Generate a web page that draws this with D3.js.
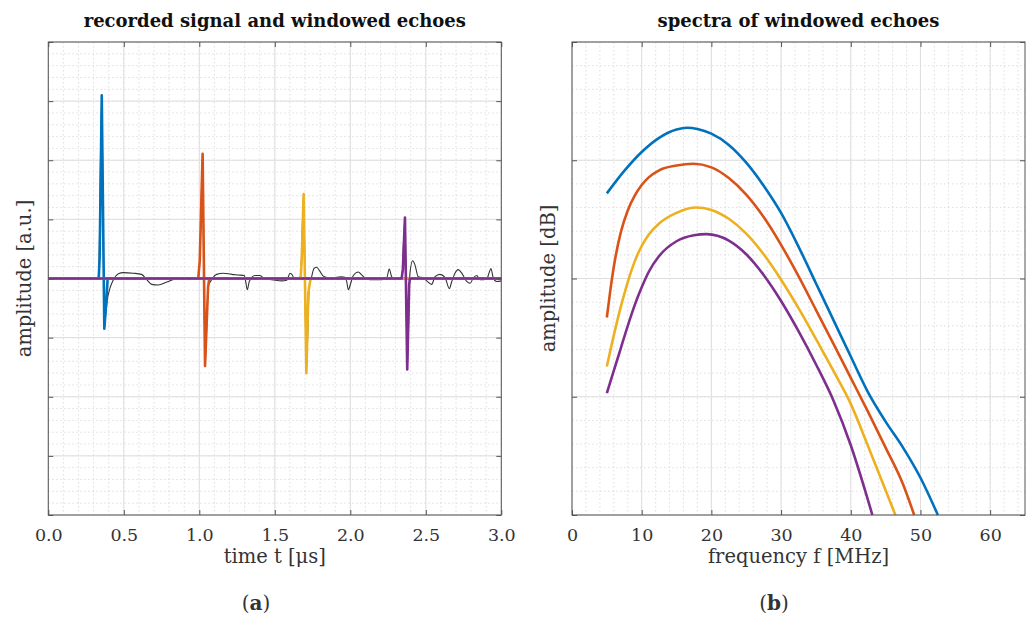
<!DOCTYPE html>
<meta charset="utf-8">
<style>
  body { margin: 0; background: #fff; }
  text { font-family: "DejaVu Serif", serif; fill: #333; }
  .title { font-weight: bold; fill: #111; }
  .grid-major line { stroke: #dedede; stroke-width: 1px; }
  .grid-minor line { stroke: #d6d6d6; stroke-width: 0.8px; stroke-dasharray: 1.5,2.5; }
  .frame { fill: none; stroke: #555; stroke-width: 1px; }
</style>
<body>
<svg id="chart" width="1029" height="621"></svg>
<script src="https://d3js.org/d3.v7.min.js"></script>
<script>

// ---- data ----
const timeTicks = [0, 0.5, 1.0, 1.5, 2.0, 2.5, 3.0];
const freqTicks = [0, 10, 20, 30, 40, 50, 60];

// recorded signal (time in us, amplitude a.u.)
const recorded = [
  [0,0],[0.33,0],[0.336,0.3],[0.354,3.08],[0.371,-0.85],[0.380,-0.62],[0.391,-0.36],[0.409,-0.16],
  [0.431,-0.02],[0.464,0.08],[0.497,0.10],[0.563,0.09],[0.618,0.07],[0.652,-0.02],[0.685,-0.10],
  [0.728,-0.11],[0.784,-0.06],[0.839,-0.01],[0.95,0],[0.993,0],[1.005,0.4],[1.022,2.10],[1.038,-1.47],
  [1.06,-0.13],[1.082,-0.02],[1.115,0.07],[1.159,0.09],[1.215,0.07],[1.258,0.06],[1.298,0.05],
  [1.307,-0.05],[1.318,-0.19],[1.331,-0.05],[1.369,0.05],[1.402,0.05],[1.435,-0.01],[1.479,-0.02],
  [1.546,-0.04],[1.579,-0.03],[1.601,0.09],[1.616,0.06],[1.629,-0.01],[1.66,0],[1.671,0.05],
  [1.691,1.42],[1.709,-1.58],[1.728,-0.14],[1.744,0.03],[1.760,0.17],[1.777,0.19],[1.799,0.12],
  [1.821,0.04],[1.866,0.01],[1.910,0.02],[1.943,0.03],[1.965,0.02],[1.976,-0.05],[1.987,-0.19],
  [2.003,-0.08],[2.020,0.05],[2.053,0.11],[2.075,0.06],[2.109,-0.01],[2.152,-0.02],[2.208,-0.02],
  [2.241,0.01],[2.258,0.16],[2.274,0.03],[2.296,-0.02],[2.318,-0.01],[2.340,0],[2.362,1.03],
  [2.377,-1.53],[2.395,0.09],[2.413,0.30],[2.428,0.23],[2.450,0.03],[2.483,0.01],[2.506,-0.04],
  [2.539,-0.10],[2.561,0.03],[2.594,0.07],[2.627,0.02],[2.656,-0.17],[2.671,-0.06],[2.693,0.09],
  [2.715,0.15],[2.738,0.09],[2.771,-0.05],[2.793,-0.08],[2.815,0.01],[2.837,0.05],[2.859,-0.02],
  [2.903,-0.01],[2.921,0.11],[2.931,0.17],[2.947,0.01],[2.970,-0.05],[3.0,-0.04]
];

// windowed echoes
const echo1 = [[0,0],[0.334,0],[0.340,0.35],[0.354,3.10],[0.371,-0.85],[0.384,-0.40],[0.393,0],[3,0]];
const echo2 = [[0,0],[0.993,0],[1.003,0.3],[1.022,2.11],[1.038,-1.48],[1.058,-0.15],[1.066,0],[3,0]];
const echo3 = [[0,0],[1.671,0],[1.678,0.3],[1.691,1.43],[1.709,-1.60],[1.722,-0.25],[1.728,-0.14],[1.737,0],[3,0]];
const echo4 = [[0,0],[2.340,0],[2.348,0.15],[2.362,1.03],[2.377,-1.54],[2.390,-0.1],[2.395,0],[3,0]];

// spectra (frequency MHz, amplitude dB)
const spec1 = [[5,-25.6],[7.5,-21.8],[10,-18.6],[12.5,-16.2],[15,-14.8],[16.5,-14.5],[18,-14.7],
  [20,-15.5],[22.5,-17.4],[25,-20.4],[27.5,-24.3],[30,-28.9],[32.5,-34.6],[35,-40.8],[37.5,-47.0],
  [40,-53.2],[42.5,-59.3],[45,-64.2],[47.5,-68.6],[50,-73.7],[52.5,-80]];
const spec2 = [[5,-46.6],[5.5,-42.0],[6,-38.0],[7,-32.2],[8,-28.5],[9,-26.0],[10,-24.2],[11,-22.9],
  [12.5,-21.7],[15,-20.9],[17.4,-20.6],[20,-21.2],[22.5,-23.0],[25,-25.8],[27.5,-29.6],[30,-34.3],
  [32.5,-39.6],[35,-45.3],[37.5,-51.0],[40,-56.8],[42.5,-62.6],[45,-68.6],[47.5,-74.8],[49.1,-80]];
const spec3 = [[5,-54.9],[6,-49.6],[7,-44.8],[8,-40.6],[9,-37.1],[10,-34.5],[11,-32.6],[12.5,-30.7],
  [15,-28.9],[17.8,-28.0],[20,-28.4],[22.5,-29.9],[25,-32.4],[27.5,-35.9],[30,-40.2],[32.5,-45.0],
  [35,-50.2],[37.5,-55.6],[40,-61.2],[42.5,-68.4],[45,-75.8],[46.4,-80]];
const spec4 = [[5,-59.4],[6,-55.6],[7,-51.8],[8,-48.0],[9,-44.5],[10,-41.5],[11,-38.9],[12.5,-36.2],
  [15,-33.7],[17.5,-32.7],[19.3,-32.5],[22.5,-33.6],[25,-35.9],[27.5,-39.4],[30,-43.8],[32.5,-48.9],
  [35,-54.5],[37.5,-60.6],[40,-68.2],[42.5,-77.6],[43.1,-80]];

const colors = ["#0072BD", "#D95319", "#EDB120", "#7E2F8E"];

const svg = d3.select("#chart");

function panel(opts) {
  const g = svg.append("g");
  const x = d3.scaleLinear().domain(opts.xDomain).range([opts.left, opts.right]);
  const y = d3.scaleLinear().domain(opts.yDomain).range([opts.bottom, opts.top]);

  // minor grid
  const xMinor = d3.range(opts.xDomain[0], opts.xDomain[1] + 1e-9, opts.xMinor);
  const yMinor = d3.range(opts.yDomain[0], opts.yDomain[1] + 1e-9, opts.yMinor);
  const gm = g.append("g").attr("class", "grid-minor");
  gm.selectAll(".vx").data(xMinor).enter().append("line")
    .attr("x1", d => x(d)).attr("x2", d => x(d)).attr("y1", opts.top).attr("y2", opts.bottom);
  gm.selectAll(".hy").data(yMinor).enter().append("line")
    .attr("y1", d => y(d)).attr("y2", d => y(d)).attr("x1", opts.left).attr("x2", opts.right);

  // major grid
  const yMajor = d3.range(opts.yDomain[0], opts.yDomain[1] + 1e-9, opts.yStep);
  const gM = g.append("g").attr("class", "grid-major");
  gM.selectAll(".vx").data(opts.xTicks).enter().append("line")
    .attr("x1", d => x(d)).attr("x2", d => x(d)).attr("y1", opts.top).attr("y2", opts.bottom);
  gM.selectAll(".hy").data(yMajor).enter().append("line")
    .attr("y1", d => y(d)).attr("y2", d => y(d)).attr("x1", opts.left).attr("x2", opts.right);

  // lines
  const plot = g.append("g");
  opts.series.forEach(s => {
    plot.append("path")
      .datum(s.data)
      .attr("fill", "none")
      .attr("stroke", s.color)
      .attr("stroke-width", s.width)
      .attr("stroke-linejoin", "round")
      .attr("d", d3.line().x(d => x(d[0])).y(d => y(d[1])).curve(s.curve));
  });

  // axes (ticks inward, box on)
  const tk = 5;
  g.append("g").attr("transform", `translate(0,${opts.bottom})`)
    .call(d3.axisBottom(x).tickValues(opts.xTicks).tickSize(-tk).tickPadding(14).tickFormat(opts.xFormat))
    .call(a => a.select(".domain").remove())
    .call(a => a.selectAll("line").attr("stroke", "#555"))
    .call(a => a.selectAll("text").attr("font-size", 17.5).attr("fill", "#333")
      .style("font-family", "DejaVu Serif, serif"));
  g.append("g").attr("transform", `translate(0,${opts.top})`)
    .call(d3.axisTop(x).tickValues(opts.xTicks).tickSize(-tk).tickFormat(""))
    .call(a => a.select(".domain").remove())
    .call(a => a.selectAll("line").attr("stroke", "#555"));
  g.append("g").attr("transform", `translate(${opts.left},0)`)
    .call(d3.axisLeft(y).tickValues(yMajor).tickSize(-tk).tickFormat(""))
    .call(a => a.select(".domain").remove())
    .call(a => a.selectAll("line").attr("stroke", "#555"));
  g.append("g").attr("transform", `translate(${opts.right},0)`)
    .call(d3.axisRight(y).tickValues(yMajor).tickSize(-tk).tickFormat(""))
    .call(a => a.select(".domain").remove())
    .call(a => a.selectAll("line").attr("stroke", "#555"));

  g.append("rect").attr("class", "frame")
    .attr("x", opts.left).attr("y", opts.top)
    .attr("width", opts.right - opts.left).attr("height", opts.bottom - opts.top);

  const cx = (opts.left + opts.right) / 2;
  g.append("text").attr("class", "title")
    .attr("x", cx).attr("y", 27).attr("text-anchor", "middle")
    .attr("font-size", 18).text(opts.title);
  g.append("text")
    .attr("x", cx).attr("y", 563).attr("text-anchor", "middle")
    .attr("font-size", 19.5).text(opts.xLabel);
  g.append("text")
    .attr("transform", `translate(${opts.left - 17},${(opts.top + opts.bottom) / 2}) rotate(-90)`)
    .attr("text-anchor", "middle")
    .attr("font-size", 19.5).text(opts.yLabel);
  const cap = g.append("text")
    .attr("x", opts.capX).attr("y", 610).attr("text-anchor", "middle")
    .attr("font-size", 20).attr("fill", "#111");
  cap.append("tspan").text("(");
  cap.append("tspan").attr("font-weight", "bold").text(opts.caption);
  cap.append("tspan").text(")");
}

panel({
  left: 48.3, right: 501.3, top: 42, bottom: 515,
  xDomain: [0, 3], yDomain: [-4, 4],
  xTicks: timeTicks, xMinor: 0.1, yStep: 1, yMinor: 0.2,
  xFormat: d3.format(".1f"),
  title: "recorded signal and windowed echoes",
  xLabel: "time t [\u03bcs]",
  yLabel: "amplitude [a.u.]",
  caption: "a", capX: 256,
  series: [
    { data: recorded, color: "#333", width: 1.1, curve: d3.curveMonotoneX },
    { data: echo1, color: colors[0], width: 2.6, curve: d3.curveLinear },
    { data: echo2, color: colors[1], width: 2.6, curve: d3.curveLinear },
    { data: echo3, color: colors[2], width: 2.6, curve: d3.curveLinear },
    { data: echo4, color: colors[3], width: 2.6, curve: d3.curveLinear }
  ]
});

panel({
  left: 572, right: 1025, top: 42, bottom: 515,
  xDomain: [0, 65], yDomain: [-80, 0],
  xTicks: freqTicks, xMinor: 2, yStep: 20, yMinor: 4,
  xFormat: d3.format("d"),
  title: "spectra of windowed echoes",
  xLabel: "frequency f [MHz]",
  yLabel: "amplitude [dB]",
  caption: "b", capX: 774,
  series: [
    { data: spec1, color: colors[0], width: 2.6, curve: d3.curveMonotoneX },
    { data: spec2, color: colors[1], width: 2.6, curve: d3.curveMonotoneX },
    { data: spec3, color: colors[2], width: 2.6, curve: d3.curveMonotoneX },
    { data: spec4, color: colors[3], width: 2.6, curve: d3.curveMonotoneX }
  ]
});

</script>
</body>
